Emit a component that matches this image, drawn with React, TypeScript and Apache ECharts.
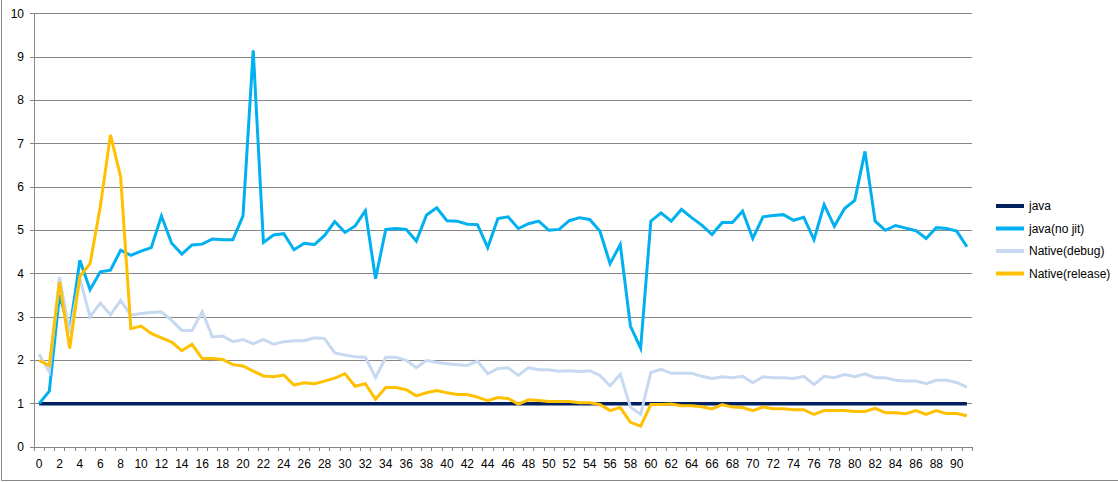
import React, { useEffect, useRef } from "react";
import * as echarts from "echarts";

const categories: string[] = Array.from({ length: 92 }, (_, i) => String(i));

const javaValues: number[] = [
  1, 1, 1, 1, 1, 1, 1, 1, 1, 1, 1, 1, 1, 1, 1, 1, 1, 1, 1, 1, 1, 1, 1, 1, 1, 1, 1, 1, 1, 1,
  1, 1, 1, 1, 1, 1, 1, 1, 1, 1, 1, 1, 1, 1, 1, 1, 1, 1, 1, 1, 1, 1, 1, 1, 1, 1, 1, 1, 1, 1,
  1, 1, 1, 1, 1, 1, 1, 1, 1, 1, 1, 1, 1, 1, 1, 1, 1, 1, 1, 1, 1, 1, 1, 1, 1, 1, 1, 1, 1, 1,
  1, 1,
];

const javaNoJit: number[] = [
  1.0, 1.29, 3.5, 2.69, 4.31, 3.63, 4.04, 4.08, 4.54, 4.42,
  4.52, 4.6, 5.33, 4.7, 4.45, 4.66, 4.68, 4.8, 4.78, 4.78,
  5.33, 9.15, 4.72, 4.89, 4.92, 4.55, 4.7, 4.67, 4.88, 5.2,
  4.95, 5.1, 5.45, 3.88, 5.02, 5.04, 5.02, 4.75, 5.35, 5.52,
  5.22, 5.21, 5.14, 5.13, 4.6, 5.27, 5.31, 5.04, 5.15, 5.21,
  5.0, 5.02, 5.22, 5.29, 5.25, 4.98, 4.23, 4.67, 2.79, 2.28,
  5.21, 5.4, 5.21, 5.48, 5.29, 5.12, 4.9, 5.18, 5.18, 5.44,
  4.81, 5.31, 5.34, 5.36, 5.23, 5.3, 4.78, 5.59, 5.09, 5.5,
  5.69, 6.82, 5.21, 5.0, 5.11, 5.05, 4.99, 4.81, 5.06, 5.04,
  4.98, 4.62,
];

const nativeDebug: number[] = [
  2.14, 1.73, 3.92, 2.62, 3.88, 3.0, 3.32, 3.05, 3.38, 3.04,
  3.08, 3.1, 3.12, 2.92, 2.69, 2.69, 3.12, 2.54, 2.56, 2.43,
  2.48, 2.38, 2.48, 2.37, 2.43, 2.45, 2.45, 2.52, 2.5, 2.17,
  2.12, 2.08, 2.07, 1.6, 2.07, 2.07, 2.0, 1.83, 2.0, 1.95,
  1.92, 1.9, 1.88, 1.98, 1.69, 1.81, 1.83, 1.65, 1.83, 1.78,
  1.78, 1.75, 1.76, 1.74, 1.76, 1.65, 1.41, 1.68, 0.92, 0.75,
  1.72, 1.79, 1.7, 1.7, 1.7, 1.63, 1.58, 1.62, 1.6, 1.63,
  1.48, 1.62, 1.6, 1.6, 1.58, 1.63, 1.44, 1.63, 1.6, 1.67,
  1.62, 1.69, 1.6, 1.6, 1.54, 1.52, 1.52, 1.46, 1.54, 1.54,
  1.49, 1.38,
];

const nativeRelease: number[] = [
  2.0, 1.88, 3.81, 2.27, 3.94, 4.23, 5.54, 7.2, 6.23, 2.73,
  2.79, 2.62, 2.52, 2.42, 2.22, 2.37, 2.04, 2.04, 2.02, 1.9,
  1.87, 1.75, 1.64, 1.62, 1.66, 1.43, 1.48, 1.46, 1.52, 1.59,
  1.69, 1.4, 1.46, 1.1, 1.37, 1.37, 1.32, 1.18, 1.25, 1.3,
  1.25, 1.21, 1.21, 1.15, 1.07, 1.14, 1.12, 0.99, 1.09, 1.07,
  1.05, 1.05, 1.05, 1.02, 1.02, 0.98, 0.84, 0.91, 0.57, 0.48,
  0.98, 0.98, 0.99, 0.95, 0.95, 0.93, 0.88, 0.98, 0.92, 0.91,
  0.84, 0.92, 0.88, 0.88, 0.86, 0.86, 0.75, 0.84, 0.84, 0.84,
  0.82, 0.82, 0.89, 0.79, 0.79, 0.77, 0.84, 0.75, 0.84, 0.77,
  0.77, 0.72,
];

const seriesNames = ["java", "java(no jit)", "Native(debug)", "Native(release)"];
const seriesColors = ["#002060", "#00B0F0", "#C6D9F1", "#FFC000"];

const FONT = "'Liberation Sans', Arial, sans-serif";

export default function App() {
  const ref = useRef<HTMLDivElement>(null);

  useEffect(() => {
    document.body.style.margin = "0";
    if (!ref.current) return;
    const chart = echarts.init(ref.current, null, { renderer: "svg" });
    const dataSets = [javaValues, javaNoJit, nativeDebug, nativeRelease];
    chart.setOption({
      animation: false,
      backgroundColor: "#ffffff",
      grid: { left: 34, right: 146, top: 13.5, bottom: 35 },
      legend: {
        orient: "vertical",
        left: 991,
        top: 195,
        itemWidth: 28,
        itemHeight: 14,
        itemGap: 10.5,
        icon: "path://M0,0 L28,0 L28,4 L0,4 Z",
        textStyle: { fontFamily: FONT, fontSize: 12, color: "#000" },
        data: seriesNames,
      },
      xAxis: {
        type: "category",
        data: categories,
        boundaryGap: true,
        axisLine: { show: true, lineStyle: { color: "#868686", width: 1 } },
        axisTick: { show: true, interval: 0, length: 4, lineStyle: { color: "#868686" } },
        axisLabel: { interval: 1, margin: 11, fontFamily: FONT, fontSize: 12, color: "#000" },
        splitLine: { show: false },
      },
      yAxis: {
        type: "value",
        min: 0,
        max: 10,
        interval: 1,
        axisLine: { show: true, lineStyle: { color: "#868686", width: 1 } },
        axisTick: { show: true, length: 4, lineStyle: { color: "#868686" } },
        axisLabel: { margin: 10, fontFamily: FONT, fontSize: 12, color: "#000" },
        splitLine: { show: true, lineStyle: { color: "#868686", width: 1 } },
      },
      graphic: [
        { type: "line", shape: { x1: 1.5, y1: 0, x2: 1.5, y2: 480.5 }, style: { stroke: "#868686", lineWidth: 1 } },
        { type: "line", shape: { x1: 1.5, y1: 480.5, x2: 1118, y2: 480.5 }, style: { stroke: "#868686", lineWidth: 1 } },
      ],
      series: seriesNames.map((name, i) => ({
        name,
        type: "line",
        data: dataSets[i],
        symbol: "none",
        smooth: false,
        color: seriesColors[i],
        lineStyle: { color: seriesColors[i], width: i === 0 ? 3.5 : 3, join: "miter" },
        itemStyle: { color: seriesColors[i] },
        z: 2 + i,
      })),
    });
    return () => chart.dispose();
  }, []);

  return <div ref={ref} style={{ width: 1118, height: 482 }} />;
}
